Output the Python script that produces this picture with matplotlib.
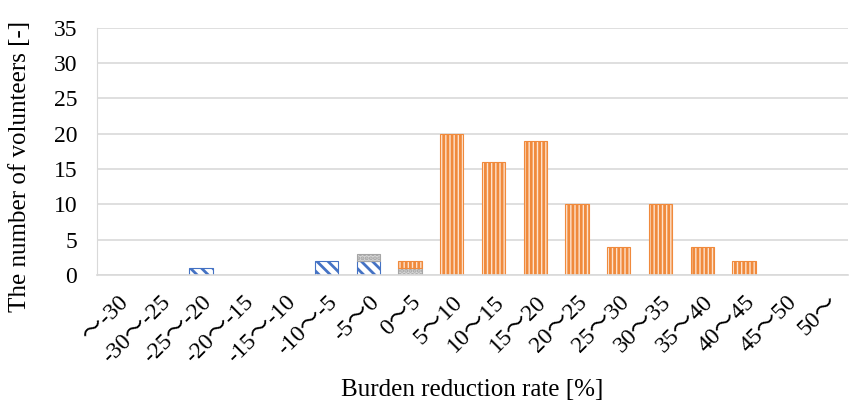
import matplotlib.pyplot as plt
import numpy as np

categories = ["～-30", "-30～-25", "-25～-20", "-20～-15", "-15～-10", "-10～-5",
              "-5～0", "0～5", "5～10", "10～15", "15～20", "20～25", "25～30",
              "30～35", "35～40", "40～45", "45～50", "50～"]
decreased = [0, 0, 1, 0, 0, 2, 2, 0, 0, 0, 0, 0, 0, 0, 0, 0, 0, 0]
unchanged = [0, 0, 0, 0, 0, 0, 1, 1, 0, 0, 0, 0, 0, 0, 0, 0, 0, 0]
increased = [0, 0, 0, 0, 0, 0, 0, 1, 20, 16, 19, 10, 4, 10, 4, 2, 0, 0]

plt.rcParams['font.family'] = ['Liberation Serif', 'Noto Sans CJK JP']
plt.rcParams['hatch.linewidth'] = 2.0

fig = plt.figure(figsize=(8.64, 4.09), dpi=100)
ax = fig.add_axes([0.112, 0.328, 0.870, 0.604])

x = np.arange(len(categories))
w = 0.56
d = np.array(decreased)
u = np.array(unchanged)
i = np.array(increased)


def stack(vals, bottom, **kw):
    m = vals > 0
    ax.bar(x[m], vals[m], w, bottom=bottom[m], **kw)


stack(d, np.zeros_like(d), color='white', edgecolor='#4472c4',
      hatch='\\\\\\', lw=0.8)
stack(u, d, color='#d6d6d6', edgecolor='#a5a5a5', hatch='....', lw=0.8)
stack(i, d + u, color='#fde2cd', edgecolor='#f08a3c', hatch='||||', lw=0.8)

ax.set_xlim(-0.5, len(categories) - 0.5)
ax.set_ylim(0, 35)
ax.set_yticks(range(0, 36, 5))
ax.set_xticks(x)
ax.set_xticklabels(categories, rotation=45, ha='right', rotation_mode='anchor')
ax.tick_params(axis='both', length=0, labelsize=17)
ax.tick_params(axis='x', pad=12)
ax.tick_params(axis='y', pad=14)
ax.grid(axis='y', color='#d9d9d9', lw=1.2)
ax.set_axisbelow(True)
for s in ['top', 'right']:
    ax.spines[s].set_visible(False)
ax.spines['left'].set_color('#d9d9d9')
ax.spines['bottom'].set_color('#d9d9d9')
ax.spines['bottom'].set_linewidth(1.2)

ax.set_ylabel('The number of volunteers [-]', fontsize=18)
ax.yaxis.set_label_coords(-0.087, 0.44)
ax.set_xlabel('Burden reduction rate [%]', fontsize=18)
ax.xaxis.set_label_coords(0.5, -0.42)

fig.savefig('out.png', dpi=100)
